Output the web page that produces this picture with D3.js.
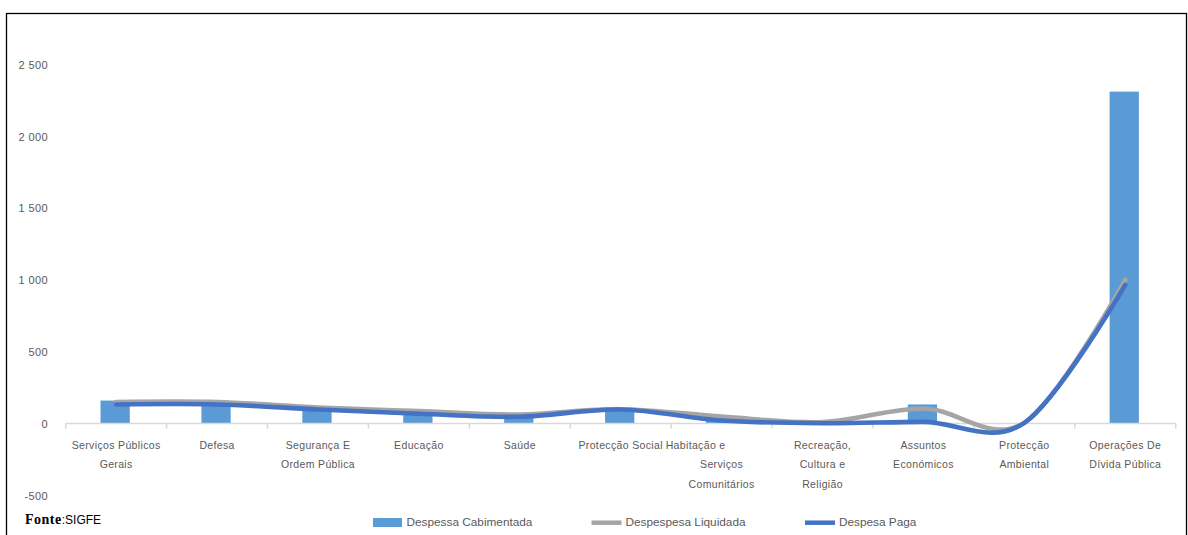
<!DOCTYPE html>
<html>
<head>
<meta charset="utf-8">
<script src="https://cdn.jsdelivr.net/npm/d3@7"></script>
<style>
  html, body { margin: 0; padding: 0; background: #fff; }
  svg { display: block; }
  text { font-family: "Liberation Sans", Arial, sans-serif; }
</style>
</head>
<body>
<svg id="chart" width="1188" height="535"></svg>
<script>
// Despesa por função (milhões)
const categories = [
  "Serviços Públicos Gerais", "Defesa", "Segurança E Ordem Pública", "Educação",
  "Saúde", "Protecção Social", "Habitação e Serviços Comunitários",
  "Recreação, Cultura e Religião", "Assuntos Económicos", "Protecção Ambiental",
  "Operações De Dívida Pública"
];
// wrapped axis labels, one entry per category
const categoryLines = [
  ["Serviços Públicos", "Gerais"], ["Defesa"], ["Segurança E", "Ordem Pública"],
  ["Educação"], ["Saúde"], ["Protecção Social"], ["Habitação e", "Serviços", "Comunitários"],
  ["Recreação,", "Cultura e", "Religião"], ["Assuntos", "Económicos"],
  ["Protecção", "Ambiental"], ["Operações De", "Dívida Pública"]
];
const cabimentada = [160, 145, 110, 78, 60, 98, 35, 5, 133, 4, 2310];
const liquidada   = [150, 150, 112, 87, 63, 100, 49, 10, 105, 5, 1000];
const paga        = [133, 133, 98, 68, 47, 98, 21, 2, 12, 5, 965];
const yTicks = [-500, 0, 500, 1000, 1500, 2000, 2500];
const seriesNames = ["Despessa Cabimentada", "Despespesa Liquidada", "Despesa Paga"];

const colors = { bar: "#5B9BD5", liq: "#A5A5A5", paga: "#4472C4", text: "#595959", axis: "#D9D9D9" };

const svg = d3.select("#chart");

// outer frame
svg.append("rect")
  .attr("x", 6.5).attr("y", 13.5).attr("width", 1180).attr("height", 540)
  .attr("fill", "none").attr("stroke", "#000").attr("stroke-width", 1.3);

const x = d3.scaleBand().domain(categories).range([65.7, 1175.7]).padding(0);
const y = d3.scaleLinear().domain([-500, 2500]).range([495.4, 64.3]);

const locale = d3.formatLocale({ decimal: ",", thousands: " ", grouping: [3], currency: ["", ""], minus: "-" });
const fmt = locale.format(",d");

// value axis labels
const yAxis = svg.append("g").attr("transform", "translate(48,0)")
  .call(d3.axisLeft(y).tickValues(yTicks).tickFormat(fmt).tickSize(0).tickPadding(0));
yAxis.select(".domain").remove();
yAxis.selectAll("text")
  .attr("fill", colors.text).style("font-size", "11px").style("letter-spacing", "0.4px")
  .attr("dy", "0.35em");

// bars
const barW = x.bandwidth() * 0.29;
svg.append("g").selectAll("rect")
  .data(categories)
  .join("rect")
  .attr("x", (d) => x(d) + x.bandwidth() / 2 - barW / 2 - 1)
  .attr("width", barW)
  .attr("y", (d, i) => y(Math.max(0, cabimentada[i])))
  .attr("height", (d, i) => Math.abs(y(cabimentada[i]) - y(0)))
  .attr("fill", colors.bar);

// category axis along zero
const xAxis = svg.append("g").attr("transform", `translate(0,${y(0)})`);
xAxis.append("line")
  .attr("x1", x.range()[0]).attr("x2", x.range()[1])
  .attr("stroke", colors.axis).attr("stroke-width", 1.5);
const boundaries = categories.map((c) => x(c)).concat([x.range()[1]]);
xAxis.selectAll("line.tick")
  .data(boundaries)
  .join("line").attr("class", "tick")
  .attr("x1", (d) => d).attr("x2", (d) => d)
  .attr("y1", 0).attr("y2", 5)
  .attr("stroke", colors.axis).attr("stroke-width", 1.5);

// category labels, clipped at the bottom of the label area
svg.append("clipPath").attr("id", "labelClip")
  .append("rect").attr("x", 0).attr("y", 0).attr("width", 1188).attr("height", 490);
const labels = svg.append("g").attr("clip-path", "url(#labelClip)");
const lineShift = { "Habitação e": -26 };
categories.forEach((c, i) => {
  const cx = x(c) + x.bandwidth() / 2;
  categoryLines[i].forEach((ln, j) => {
    labels.append("text")
      .attr("x", cx + (j === 0 && lineShift[ln] ? lineShift[ln] : 0))
      .attr("y", 448.5 + j * 19.5)
      .attr("text-anchor", "middle")
      .attr("fill", colors.text)
      .style("font-size", "10.5px")
      .style("letter-spacing", "0.35px")
      .text(ln);
  });
});

// smoothed lines
const line = d3.line()
  .x((d, i) => x(categories[i]) + x.bandwidth() / 2)
  .y((d) => y(d))
  .curve(d3.curveCatmullRom.alpha(0));

[[liquidada, colors.liq], [paga, colors.paga]].forEach(([vals, col]) => {
  svg.append("path")
    .datum(vals)
    .attr("d", line)
    .attr("fill", "none")
    .attr("stroke", col)
    .attr("stroke-width", 4.6)
    .attr("stroke-linejoin", "round")
    .attr("stroke-linecap", "round");
});

// legend
const legend = svg.append("g");
const legendItems = [
  { name: seriesNames[0], type: "bar", color: colors.bar, x: 373 },
  { name: seriesNames[1], type: "line", color: colors.liq, x: 591.5 },
  { name: seriesNames[2], type: "line", color: colors.paga, x: 805 }
];
legendItems.forEach((it) => {
  if (it.type === "bar") {
    legend.append("rect").attr("x", it.x).attr("y", 518).attr("width", 29).attr("height", 9)
      .attr("fill", it.color);
  } else {
    legend.append("line").attr("x1", it.x).attr("x2", it.x + 30)
      .attr("y1", 522.7).attr("y2", 522.7)
      .attr("stroke", it.color).attr("stroke-width", 4.5);
  }
  legend.append("text")
    .attr("x", it.x + (it.type === "bar" ? 33.5 : 34))
    .attr("y", 525.5)
    .attr("fill", colors.text)
    .style("font-size", "11.8px")
    .text(it.name);
});

// source note
const src = svg.append("text").attr("x", 25).attr("y", 524).attr("fill", "#000");
src.append("tspan").style("font-family", "'Liberation Serif', 'Times New Roman', serif")
  .style("font-weight", "bold").style("font-size", "14px").style("letter-spacing", "0.5px").text("Fonte");
src.append("tspan").style("font-size", "12px").text(":SIGFE");
</script>
</body>
</html>
